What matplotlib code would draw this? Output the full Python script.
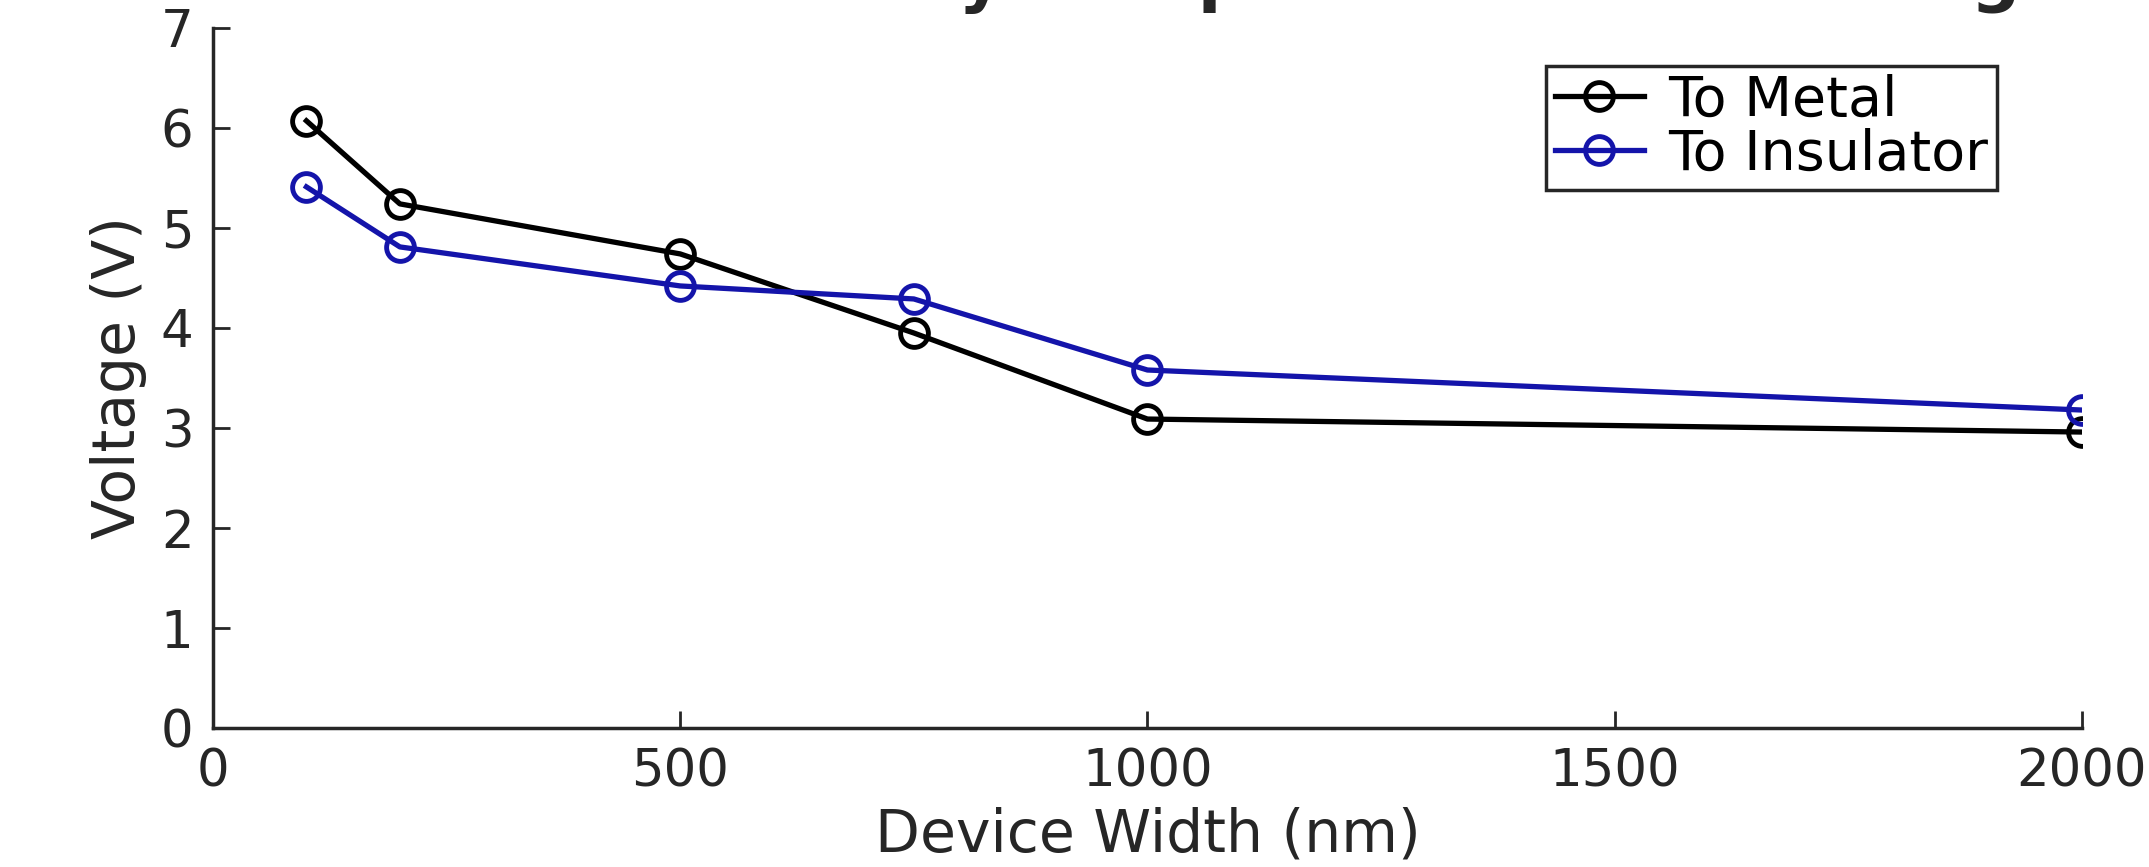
import numpy as np
import matplotlib
matplotlib.use("Agg")
import matplotlib.pyplot as plt

# device widths (nm) and transition voltages (V)
width = [100, 200, 500, 750, 1000, 2000]
v_metal = [6.07, 5.24, 4.74, 3.95, 3.09, 2.96]
v_insul = [5.41, 4.81, 4.42, 4.29, 3.58, 3.18]
labels = ["To Metal", "To Insulator"]
xticks = [0, 500, 1000, 1500, 2000]
yticks = [0, 1, 2, 3, 4, 5, 6, 7]

plt.rcParams['font.family'] = ['DejaVu Sans']
fig = plt.figure(figsize=(21.49, 8.67), dpi=100)
ax = fig.add_axes([0.0991, 0.160, 0.8697, 0.808])

gray = "#262626"
ax.plot(width, v_metal, color="black", lw=3.8, marker="o", ms=20,
        mfc="none", mew=3.5, label=labels[0])
ax.plot(width, v_insul, color="#1414aa", lw=3.8, marker="o", ms=20,
        mfc="none", mew=3.5, label=labels[1])

ax.set_xlim(0, 2000)
ax.set_ylim(0, 7)
ax.set_xticks(xticks)
ax.set_yticks(yticks)
ax.tick_params(direction="in", length=12, width=2, colors=gray,
               labelsize=37, pad=14)
for s in ["top", "right"]:
    ax.spines[s].set_visible(False)
for s in ["left", "bottom"]:
    ax.spines[s].set_linewidth(2.5)
    ax.spines[s].set_color(gray)

ax.set_xlabel("Device Width (nm)", fontsize=42, color=gray, labelpad=6)
ax.set_ylabel("Voltage (V)", fontsize=42, color=gray, labelpad=10)

# title sits mostly above the top edge, as in the reference
fig.text(0.535, 1 + 1 / 867, "Device Width Study: Output Transition Voltage",
         ha="center", va="baseline", fontsize=50, fontweight="bold", color=gray)

leg = ax.legend(loc="upper right", bbox_to_anchor=(0.9545, 0.946), fontsize=40,
                frameon=True, fancybox=False, borderpad=0.15, labelspacing=0.0,
                handlelength=1.6, handletextpad=0.45, borderaxespad=0)
leg.get_frame().set_edgecolor(gray)
leg.get_frame().set_linewidth(2.5)
leg.get_frame().set_alpha(1)

fig.savefig("out.png", dpi=100)
